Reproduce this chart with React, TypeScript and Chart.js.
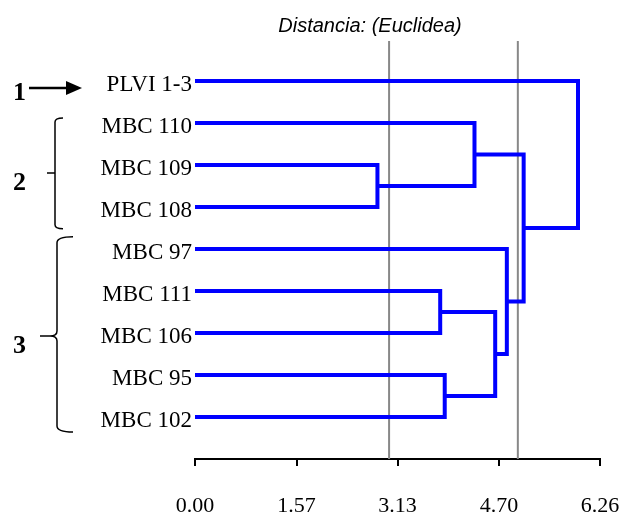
import React, { useEffect, useRef } from 'react';
import { Chart, registerables } from 'chart.js';

Chart.register(...registerables);

// ---- data ----
const leaves = ['PLVI 1-3', 'MBC 110', 'MBC 109', 'MBC 108', 'MBC 97', 'MBC 111', 'MBC 106', 'MBC 95', 'MBC 102'];
// merges: node ids 0..8 are leaves, merge k creates node 9+k
const mergeLeft = [2, 1, 5, 7, 11, 4, 10, 0];
const mergeRight = [3, 9, 6, 8, 12, 13, 14, 15];
const mergeHeight = [2.82, 4.32, 3.79, 3.86, 4.64, 4.82, 5.08, 5.92];
const cutLevels = [3.0, 4.99];
const xTicks = [0, 1.57, 3.13, 4.7, 6.26];
const xMax = 6.26;
const titleText = 'Distancia: (Euclidea)';
const groupLabels = ['1', '2', '3'];

const SERIF = '"Liberation Serif", "Times New Roman", serif';
const SANS = '"Liberation Sans", Arial, sans-serif';

function buildSegments() {
  const nodeX: number[] = leaves.map(() => 0);
  const nodeY: number[] = leaves.map((_, i) => i);
  const segs: { x: number; y: number }[][] = [];
  mergeHeight.forEach((h, k) => {
    const a = mergeLeft[k];
    const b = mergeRight[k];
    segs.push([
      { x: nodeX[a], y: nodeY[a] },
      { x: h, y: nodeY[a] },
      { x: h, y: nodeY[b] },
      { x: nodeX[b], y: nodeY[b] },
    ]);
    nodeX.push(h);
    nodeY.push((nodeY[a] + nodeY[b]) / 2);
  });
  return segs;
}

const Y_MIN = -0.952;
const Y_MAX = 9;

const decorPlugin = {
  id: 'decor',
  afterDraw(chart: any) {
    const ctx = chart.ctx as CanvasRenderingContext2D;
    const ys = chart.scales.y;
    const py = (v: number) => ys.getPixelForValue(v);
    ctx.save();
    // title
    ctx.fillStyle = '#000';
    ctx.font = `italic 20px ${SANS}`;
    ctx.textAlign = 'center';
    ctx.textBaseline = 'alphabetic';
    ctx.fillText(titleText, 370, 32);

    ctx.strokeStyle = '#000';
    ctx.fillStyle = '#000';
    ctx.font = `bold 26px ${SERIF}`;
    ctx.textAlign = 'left';

    // group 1: arrow
    const a1 = py(0.167);
    ctx.fillText(groupLabels[0], 13, a1 + 12);
    ctx.lineWidth = 2.5;
    ctx.beginPath();
    ctx.moveTo(29, a1);
    ctx.lineTo(68, a1);
    ctx.stroke();
    ctx.beginPath();
    ctx.moveTo(66, a1 - 7);
    ctx.lineTo(82, a1);
    ctx.lineTo(66, a1 + 7);
    ctx.closePath();
    ctx.fill();

    // group 2: square bracket
    const t2 = py(0.88), b2 = py(3.52), m2 = py(2.19);
    ctx.fillText(groupLabels[1], 13, m2 + 17);
    ctx.lineWidth = 1.5;
    ctx.beginPath();
    ctx.moveTo(63, t2);
    ctx.quadraticCurveTo(55, t2, 55, t2 + 4);
    ctx.lineTo(55, b2 - 4);
    ctx.quadraticCurveTo(55, b2, 63, b2);
    ctx.moveTo(47, m2);
    ctx.lineTo(55, m2);
    ctx.stroke();

    // group 3: curly brace
    const t3 = py(3.71), b3 = py(8.36), m3 = py(6.07);
    ctx.fillText(groupLabels[2], 13, m3 + 17);
    ctx.beginPath();
    ctx.moveTo(73, t3);
    ctx.quadraticCurveTo(57, t3, 57, t3 + 6);
    ctx.lineTo(57, m3 - 5);
    ctx.quadraticCurveTo(57, m3, 50, m3);
    ctx.lineTo(40, m3);
    ctx.moveTo(50, m3);
    ctx.quadraticCurveTo(57, m3, 57, m3 + 5);
    ctx.lineTo(57, b3 - 6);
    ctx.quadraticCurveTo(57, b3, 73, b3);
    ctx.stroke();
    ctx.restore();
  },
};

export default function App() {
  const ref = useRef<HTMLCanvasElement | null>(null);

  useEffect(() => {
    if (!ref.current) return;
    const segs = buildSegments();
    const datasets: any[] = [];
    cutLevels.forEach((c) => {
      datasets.push({
        data: [
          { x: c, y: Y_MIN },
          { x: c, y: Y_MAX },
        ],
        showLine: true,
        borderColor: '#888888',
        borderWidth: 2,
        pointRadius: 0,
        order: 2,
        clip: false,
      });
    });
    segs.forEach((s) => {
      datasets.push({
        data: s,
        showLine: true,
        borderColor: '#0000ff',
        borderWidth: 4,
        borderJoinStyle: 'miter',
        borderCapStyle: 'butt',
        pointRadius: 0,
        order: 1,
        clip: false,
      });
    });

    const chart = new Chart(ref.current, {
      type: 'scatter',
      data: { datasets },
      options: {
        animation: false,
        responsive: false,
        layout: { padding: { left: 0, right: 24, top: 41, bottom: 0 } },
        plugins: {
          legend: { display: false },
          tooltip: { enabled: false },
          title: { display: false },
        },
        scales: {
          x: {
            type: 'linear',
            min: 0,
            max: xMax,
            position: 'bottom',
            afterBuildTicks: (s: any) => {
              s.ticks = xTicks.map((v) => ({ value: v }));
            },
            afterFit: (s: any) => {
              s.height = 55;
              s.paddingLeft = 0;
              s.paddingRight = 0;
            },
            ticks: {
              callback: (v: any) => Number(v).toFixed(2),
              font: { family: SERIF, size: 22 },
              color: '#000',
              padding: 27,
              autoSkip: false,
              maxRotation: 0,
            },
            grid: {
              drawOnChartArea: false,
              drawTicks: true,
              tickLength: 7,
              color: '#000',
              lineWidth: 2,
            },
            border: { display: true, color: '#000', width: 2 },
          },
          y: {
            type: 'linear',
            min: Y_MIN,
            max: Y_MAX,
            reverse: true,
            afterBuildTicks: (s: any) => {
              s.ticks = leaves.map((_, i) => ({ value: i }));
            },
            afterFit: (s: any) => {
              s.width = 195;
              s.paddingTop = 0;
              s.paddingBottom = 0;
            },
            ticks: {
              callback: (v: any) => leaves[v as number],
              font: { family: SERIF, size: 23 },
              color: '#000',
              padding: 3,
              autoSkip: false,
              labelOffset: 4,
            },
            grid: { display: false, drawTicks: false },
            border: { display: false },
          },
        },
      } as any,
      plugins: [decorPlugin],
    });
    return () => chart.destroy();
  }, []);

  return (
    <div style={{ position: 'absolute', left: 0, top: 0, width: 624, height: 514, background: '#fff' }}>
      <canvas ref={ref} width={624} height={514} style={{ width: 624, height: 514 }} />
    </div>
  );
}
